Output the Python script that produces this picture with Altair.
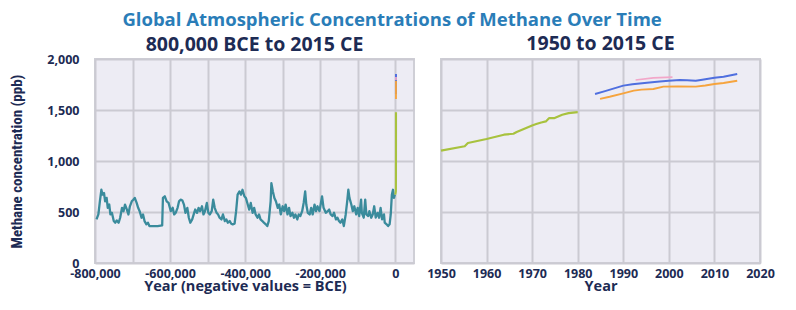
import altair as alt
import pandas as pd

# ---- data ----
ice_years = [-796000, -791000, -787000, -783000, -780000, -776000, -773000, -769000, -766000, -762000,
             -759000, -755000, -750000, -746000, -742000, -737000, -733000, -728000, -724000, -720000,
             -715000, -711000, -707000, -702000, -698000, -694000, -689000, -685000, -681000, -676000,
             -672000, -668000, -663000, -659000, -655000, -646000, -633000, -621000, -619000, -614000,
             -609000, -604000, -598000, -593000, -589000, -585000, -580000, -576000, -572000, -567000,
             -563000, -559000, -554000, -550000, -546000, -541000, -537000, -533000, -528000, -524000,
             -520000, -515000, -511000, -507000, -502000, -498000, -494000, -489000, -485000, -481000,
             -476000, -472000, -468000, -463000, -459000, -454000, -450000, -446000, -441000, -437000,
             -433000, -428000, -424000, -420000, -415000, -411000, -407000, -402000, -398000, -393000,
             -389000, -385000, -380000, -376000, -372000, -367000, -363000, -359000, -354000, -350000,
             -345000, -341000, -337000, -332000, -330000, -326000, -322000, -318000, -313000, -309000,
             -305000, -300000, -296000, -292000, -287000, -283000, -279000, -274000, -270000, -266000,
             -261000, -257000, -253000, -248000, -244000, -240000, -237000, -233000, -228000, -224000,
             -220000, -215000, -211000, -207000, -202000, -198000, -195000, -191000, -185000, -180000,
             -176000, -172000, -167000, -163000, -158000, -154000, -150000, -146000, -141000, -137000,
             -132000, -128000, -125000, -122000, -117000, -113000, -109000, -104000, -100000, -96000,
             -91000, -89000, -84000, -80000, -77000, -72000, -69000, -64000, -60000, -56000,
             -52000, -47000, -43000, -39000, -35000, -30000, -28000, -23000, -19000, -15000,
             -12000, -9000, -6000, -3500, -1000]
ice_ppb = [427, 476, 605, 718, 670, 686, 605, 638, 541, 573,
           476, 492, 411, 395, 417, 395, 444, 541, 508, 573,
           524, 476, 556, 605, 621, 638, 589, 541, 508, 444,
           476, 411, 379, 395, 362, 362, 362, 369, 638, 654,
           605, 589, 508, 541, 476, 492, 541, 605, 621, 612,
           573, 492, 541, 444, 395, 427, 476, 524, 492, 541,
           508, 556, 476, 508, 589, 492, 476, 508, 621, 541,
           492, 476, 444, 427, 476, 411, 427, 395, 411, 385,
           379, 385, 508, 670, 702, 670, 718, 654, 638, 573,
           524, 589, 492, 541, 476, 444, 476, 427, 411, 395,
           379, 362, 411, 605, 783, 702, 638, 605, 541, 573,
           476, 556, 508, 573, 476, 541, 460, 492, 444, 476,
           427, 476, 460, 508, 589, 702, 573, 492, 476, 541,
           476, 573, 508, 556, 508, 589, 654, 541, 492, 508,
           524, 476, 460, 492, 427, 444, 411, 395, 427, 362,
           476, 605, 718, 638, 573, 508, 556, 476, 541, 460,
           621, 492, 444, 621, 476, 460, 508, 444, 476, 556,
           444, 492, 444, 541, 427, 476, 395, 379, 362, 379,
           476, 670, 718, 638, 670]

lawdome_years = [0, 1000, 1500, 1800, 1900, 1950, 1955.2, 1955.9, 1960, 1963.8, 1965.9, 1966.6,
                 1970, 1970.9, 1972, 1973, 1973.7, 1974.8, 1976.6, 1978, 1980]
lawdome_ppb = [670, 690, 700, 730, 900, 1102, 1144, 1176, 1215, 1258, 1267, 1284,
               1349, 1362, 1378, 1388, 1420, 1420, 1453, 1469, 1479]

blue_years = [1983.8, 1986, 1988, 1990, 1992, 1995.2, 1998, 2000, 2002.4, 2004, 2005.9, 2007, 2010, 2012, 2015]
blue_ppb = [1657, 1685, 1712, 1739, 1752, 1768, 1780, 1787, 1794, 1792, 1787, 1795, 1817, 1825, 1852]

orange_years = [1984.9, 1987, 1990, 1992.3, 1994, 1996.6, 1998.8, 2002, 2005.9, 2008, 2010, 2012, 2015]
orange_ppb = [1609, 1630, 1664, 1690, 1700, 1706, 1729, 1730, 1729, 1740, 1755, 1765, 1787]

pink_years = [1992.7, 1996.6, 2000.8]
pink_ppb = [1794, 1815, 1823]

series_names = ["EPICA Dome C", "Law Dome", "Mauna Loa", "Cape Grim", "Shetland Islands"]
series_colors = ["#3a8b9c", "#a8c23e", "#4f6fdf", "#f6a43e", "#f2a7c9"]
series_widths = [2.3, 1.7, 1.7, 1.7, 1.7]

frames = []
for name, ys, vs in zip(series_names,
                        [ice_years, lawdome_years, blue_years, orange_years, pink_years],
                        [ice_ppb, lawdome_ppb, blue_ppb, orange_ppb, pink_ppb]):
    frames.append(pd.DataFrame({"year": ys, "ppb": vs, "series": name}))
df = pd.concat(frames, ignore_index=True)

FONT = "Open Sans"
NAVY = "#1d2b54"
W, H = 319, 204

color_enc = alt.Color("series:N", scale=alt.Scale(domain=series_names, range=series_colors), legend=None)
width_enc = alt.StrokeWidth("series:N", scale=alt.Scale(domain=series_names, range=series_widths), legend=None)

left_ticks = list(range(-800000, 1, 100000))
left = alt.Chart(df).mark_line(strokeJoin="round").encode(
    x=alt.X("year:Q",
            scale=alt.Scale(domain=[-800000, 50000], nice=False, zero=False),
            axis=alt.Axis(values=left_ticks,
                          labelExpr="datum.value % 200000 == 0 ? replace(format(datum.value, ','), '\u2212', '-') : ''",
                          title="Year (negative values = BCE)", titleX=150)),
    y=alt.Y("ppb:Q", scale=alt.Scale(domain=[0, 2000], nice=False),
            axis=alt.Axis(values=[0, 500, 1000, 1500, 2000], format=",d",
                          title="Methane concentration (ppb)",
                          titleFont="Roboto Condensed, Roboto", titleFontSize=15,
                          titlePadding=22, labelPadding=16)),
    color=color_enc,
    strokeWidth=width_enc,
    detail="series:N",
).properties(width=W, height=H,
             title=alt.TitleParams("800,000 BCE to 2015 CE", offset=-2))

right = alt.Chart(df).transform_filter("datum.year >= 1950").mark_line(strokeJoin="round").encode(
    x=alt.X("year:Q", scale=alt.Scale(domain=[1950, 2020], nice=False, zero=False),
            axis=alt.Axis(values=list(range(1950, 2021, 10)), format="d", title="Year")),
    y=alt.Y("ppb:Q", scale=alt.Scale(domain=[0, 2000], nice=False),
            axis=alt.Axis(values=[0, 500, 1000, 1500, 2000], labels=False, title=None)),
    color=color_enc,
    strokeWidth=width_enc,
    detail="series:N",
).properties(width=W, height=H,
             title=alt.TitleParams("1950 to 2015 CE", offset=5))

chart = alt.hconcat(left, right, spacing=10).properties(
    title=alt.TitleParams("Global Atmospheric Concentrations of Methane Over Time",
                          color="#2a7db8", fontSize=18.5, font=FONT, fontWeight="bold",
                          anchor="middle", offset=3),
    padding={"left": 0, "top": 3, "right": 0, "bottom": 0},
    background="white",
).configure_view(
    fill="#edecf4", stroke="#cfcfd6", strokeWidth=2,
).configure_axis(
    grid=True, gridColor="#cbcad2", gridWidth=2, gridOpacity=1,
    domain=False, ticks=False, labelFlush=False,
    labelFont=FONT, labelFontWeight="bold", labelFontSize=12.5, labelColor=NAVY,
    labelPadding=4,
    titleFont=FONT, titleFontWeight="bold", titleFontSize=14.5, titleColor=NAVY,
    titlePadding=0,
).configure_title(
    font=FONT, fontWeight="bold", fontSize=19.5, color=NAVY,
)

chart.save("out.html", embed_options={"renderer": "svg", "actions": False})
